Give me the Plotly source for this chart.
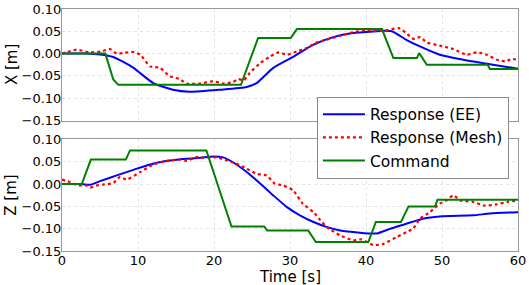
import plotly.graph_objects as go
from plotly.subplots import make_subplots

# ---- X panel data ----
t_x_cmd = [0, 5.7, 6.75, 7.4, 23.55, 25.8, 30.1, 30.9, 42.1, 43.6, 46.7, 47.0, 48.0, 56.0, 56.3, 60]
x_cmd = [0.0, 0.0, -0.058, -0.07, -0.07, 0.035, 0.035, 0.055, 0.055, -0.01, -0.01, 0.001, -0.025, -0.025, -0.0345, -0.0345]

t_x_ee = [0, 3, 5, 6.75, 9.4, 12, 14.6, 16.8, 20.8, 24.3, 25.6, 27.8, 30.4, 33.1, 35.7, 38.3, 41.4, 42.3, 43.4, 45.3, 47.1, 49.7, 52.8, 55.9, 60]
x_ee = [0.0, 0.0, -0.002, -0.0076, -0.032, -0.066, -0.081, -0.0855, -0.081, -0.075, -0.066, -0.032, -0.0076, 0.02, 0.037, 0.046, 0.05, 0.051, 0.05, 0.031, 0.016, -0.0025, -0.0137, -0.0226, -0.034]

t_x_mesh = [0, 1.9, 3.7, 5.2, 6.3, 7.2, 8.3, 9.4, 10.3, 11.6, 12.9, 14.2, 15.5, 16.4, 18.2, 19.9, 21.2, 22.5, 23.2, 23.9, 24.7, 26.1, 27.4, 28.5, 29.6, 30.9, 32.2, 33.5, 34.8, 36.6, 38.3, 40.1, 41.2, 42.3, 44.3, 45.3, 46.2, 47.1, 48.0, 49.7, 51.5, 53.2, 54.6, 55.9, 57.2, 58.3, 59.2, 60]
x_mesh = [0.0, 0.0087, 0.0027, 0.005, 0.0103, 0.0, 0.002, 0.0036, -0.0025, -0.0287, -0.032, -0.051, -0.057, -0.0675, -0.067, -0.062, -0.067, -0.064, -0.057, -0.06, -0.0435, -0.021, -0.0063, 0.0027, -0.0025, 0.005, 0.0126, 0.025, 0.031, 0.04, 0.0475, 0.0535, 0.051, 0.051, 0.057, 0.046, 0.033, 0.037, 0.025, 0.018, 0.0103, -0.0025, 0.0027, -0.0025, -0.0137, -0.0175, -0.012, -0.0137]

# ---- Z panel data ----
t_z_cmd = [0, 2.6, 3.8, 8.4, 8.95, 19.0, 22.3, 26.6, 27.0, 32.4, 33.4, 40.3, 41.3, 44.6, 45.6, 49.1, 49.4, 60]
z_cmd = [0.0, 0.0, 0.055, 0.055, 0.0756, 0.0756, -0.095, -0.095, -0.104, -0.104, -0.13, -0.13, -0.085, -0.085, -0.05, -0.05, -0.035, -0.035]

t_z_ee = [0, 2.6, 3.7, 5, 7.2, 9.4, 11.6, 13.7, 16.4, 18.2, 19.9, 21.2, 22.5, 24.3, 26.1, 27.8, 29.6, 31.3, 33.1, 34.8, 36.6, 39.2, 41.0, 41.6, 43.2, 45.3, 47.5, 49.7, 54.1, 56.3, 60]
z_ee = [0.0, 0.0, -0.0015, 0.0067, 0.0195, 0.032, 0.044, 0.0516, 0.057, 0.059, 0.062, 0.06, 0.049, 0.027, 0.001, -0.0253, -0.0516, -0.07, -0.085, -0.096, -0.104, -0.109, -0.111, -0.11, -0.1, -0.089, -0.0776, -0.0725, -0.07, -0.066, -0.063]

t_z_mesh = [0, 1.05, 2.1, 3.25, 3.7, 4.56, 5.4, 6.75, 7.6, 8.5, 10.3, 12.0, 13.7, 15.5, 16.4, 17.7, 18.2, 20.3, 21.7, 23.0, 24.3, 25.6, 26.9, 28.0, 29.1, 30.4, 31.7, 33.1, 34.0, 34.8, 36.6, 38.3, 39.4, 41.0, 42.3, 44.0, 45.3, 46.2, 47.1, 48.4, 49.7, 50.6, 51.5, 52.4, 54.1, 55.5, 57.2, 58.6, 60]
z_mesh = [0.01, 0.0045, -0.003, -0.003, -0.008, -0.003, -0.001, 0.0022, 0.0157, 0.01, 0.027, 0.044, 0.0516, 0.055, 0.052, 0.0605, 0.059, 0.06, 0.053, 0.0457, 0.0345, 0.023, 0.0195, 0.001, -0.003, -0.014, -0.044, -0.063, -0.081, -0.096, -0.115, -0.126, -0.124, -0.137, -0.134, -0.119, -0.108, -0.1, -0.0776, -0.063, -0.044, -0.0365, -0.025, -0.0365, -0.04, -0.048, -0.0455, -0.04, -0.0365]

x_ticks = [0, 10, 20, 30, 40, 50, 60]
y_ticks = [0.10, 0.05, 0.00, -0.05, -0.10, -0.15]

BLUE = "#0000ff"
RED = "#ff0000"
GREEN = "#007f00"
FONT = "DejaVu Sans"

fig = make_subplots(rows=2, cols=1, shared_xaxes=True, vertical_spacing=0.0785)

fig.add_trace(go.Scatter(x=t_x_ee, y=x_ee, mode="lines", line=dict(color=BLUE, width=2, shape="spline", smoothing=0.6),
                         name="Response (EE)", legendgroup="ee"), row=1, col=1)
fig.add_trace(go.Scatter(x=t_x_mesh, y=x_mesh, mode="lines", line=dict(color=RED, width=2.2, dash="dot", shape="spline", smoothing=0.5),
                         name="Response (Mesh)", legendgroup="mesh"), row=1, col=1)
fig.add_trace(go.Scatter(x=t_x_cmd, y=x_cmd, mode="lines", line=dict(color=GREEN, width=2),
                         name="Command", legendgroup="cmd"), row=1, col=1)

fig.add_trace(go.Scatter(x=t_z_ee, y=z_ee, mode="lines", line=dict(color=BLUE, width=2, shape="spline", smoothing=0.6),
                         name="Response (EE)", legendgroup="ee", showlegend=False), row=2, col=1)
fig.add_trace(go.Scatter(x=t_z_mesh, y=z_mesh, mode="lines", line=dict(color=RED, width=2.2, dash="dot", shape="spline", smoothing=0.5),
                         name="Response (Mesh)", legendgroup="mesh", showlegend=False), row=2, col=1)
fig.add_trace(go.Scatter(x=t_z_cmd, y=z_cmd, mode="lines", line=dict(color=GREEN, width=2),
                         name="Command", legendgroup="cmd", showlegend=False), row=2, col=1)

axis_common = dict(showline=True, linecolor="#999999", linewidth=1, mirror=True,
                   showgrid=True, gridcolor="#e4e4e4", griddash="dot", gridwidth=1,
                   zeroline=False, ticks="", automargin=False,
                   tickfont=dict(family=FONT, size=13, color="black"))

fig.update_xaxes(range=[0, 60], tickvals=x_ticks, ticklabelstandoff=-3, **axis_common)
fig.update_xaxes(showticklabels=False, row=1, col=1)
fig.update_yaxes(range=[-0.15, 0.10], tickvals=y_ticks, tickformat=".2f", ticklabelstandoff=-3, **axis_common)

title_font = dict(family=FONT, size=15, color="black")
fig.add_annotation(text="Time [s]", xref="paper", yref="paper", x=0.5, y=-0.106, xanchor="center", yanchor="middle",
                   showarrow=False, font=title_font, borderpad=0)
fig.add_annotation(text="X [m]", xref="paper", yref="paper", x=-0.111, y=0.77, xanchor="center", yanchor="middle",
                   textangle=-90, showarrow=False, font=title_font)
fig.add_annotation(text="Z [m]", xref="paper", yref="paper", x=-0.111, y=0.23, xanchor="center", yanchor="middle",
                   textangle=-90, showarrow=False, font=title_font)

fig.update_layout(
    width=529, height=285,
    margin=dict(l=62, r=11, t=9, b=34),
    plot_bgcolor="white", paper_bgcolor="white",
    font=dict(family=FONT, size=13, color="black"),
    legend=dict(x=0.559, y=0.6376, xanchor="left", yanchor="top",
                bgcolor="white", bordercolor="#888888", borderwidth=1,
                font=dict(family=FONT, size=15.5, color="black"),
                tracegroupgap=0, itemwidth=42),
)

fig.write_html("out.html", config={"displayModeBar": False},
               post_script="document.body.style.margin='0';")
